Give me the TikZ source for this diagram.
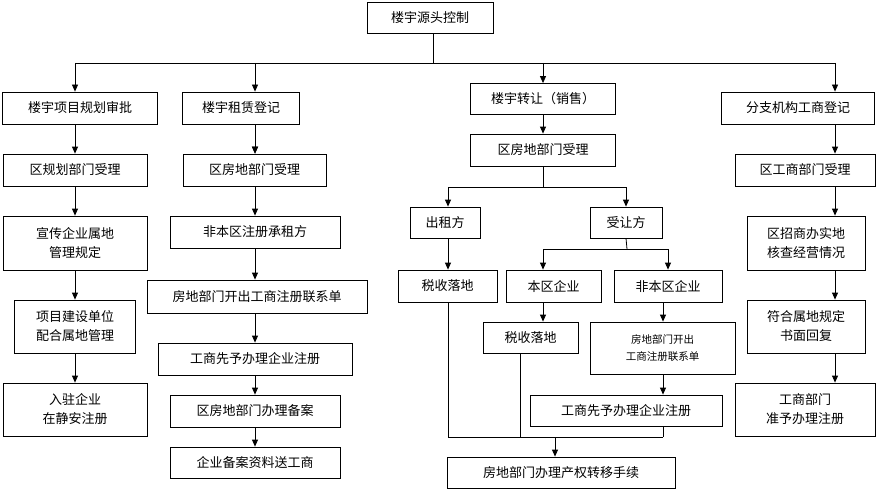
\documentclass[tikz,border=0pt]{standalone}
\usepackage{fontspec}
\newfontfamily\cjk{Noto Sans CJK SC}
\usetikzlibrary{arrows.meta}
\tikzset{
  box/.style={draw, thick, fill=white, inner sep=1pt, align=center, font=\cjk\fontsize{13}{19}\selectfont},
  arr/.style={thick, -{Triangle[length=7pt,width=6pt]}},
  ln/.style={thick}
}
\begin{document}
\begin{tikzpicture}[x=1pt,y=-1pt]
  \useasboundingbox (0,0) rectangle (882,492);
  \node[box, minimum width=126, minimum height=31] (top) at (430,18) {楼宇源头控制};

  \node[box, minimum width=155, minimum height=32] (a0) at (80,108)  {楼宇项目规划审批};
  \node[box, minimum width=117, minimum height=32] (b0) at (241,108) {楼宇租赁登记};
  \node[box, minimum width=145, minimum height=31] (c0) at (543,99)  {楼宇转让（销售）};
  \node[box, minimum width=153, minimum height=32] (d0) at (798,108) {分支机构工商登记};

  % first column
  \node[box, minimum width=144, minimum height=32] (a1) at (75,170)   {区规划部门受理};
  \node[box, minimum width=144, minimum height=54] (a2) at (75,243)   {宣传企业属地\\管理规定};
  \node[box, minimum width=121, minimum height=53] (a3) at (75,326.5) {项目建设单位\\配合属地管理};
  \node[box, minimum width=144, minimum height=53] (a4) at (75,409.5) {入驻企业\\在静安注册};

  % second column
  \node[box, minimum width=143, minimum height=32] (b1) at (254.5,170) {区房地部门受理};
  \node[box, minimum width=170, minimum height=32] (b2) at (255,232)   {非本区注册承租方};
  \node[box, minimum width=220, minimum height=33] (b3) at (257,296.5) {房地部门开出工商注册联系单};
  \node[box, minimum width=194, minimum height=32] (b4) at (255,359)   {工商先予办理企业注册};
  \node[box, minimum width=170, minimum height=32] (b5) at (255,411)   {区房地部门办理备案};
  \node[box, minimum width=170, minimum height=31] (b6) at (255,462.5) {企业备案资料送工商};

  % third column
  \node[box, minimum width=145, minimum height=32] (c1) at (543,150)   {区房地部门受理};
  \node[box, minimum width=70, minimum height=31]  (c2) at (445,222.5) {出租方};
  \node[box, minimum width=72, minimum height=31]  (c3) at (626,222.5) {受让方};
  \node[box, minimum width=99, minimum height=32]  (c4) at (447.5,286) {税收落地};
  \node[box, minimum width=95, minimum height=32]  (c5) at (553.5,286) {本区企业};
  \node[box, minimum width=108, minimum height=32] (c6) at (668,286)   {非本区企业};
  \node[box, minimum width=95, minimum height=31]  (c7) at (530.5,337.5) {税收落地};
  \node[box, minimum width=145, minimum height=52, font=\cjk\fontsize{10.5}{17}\selectfont] (c8) at (662.5,348) {房地部门开出\\工商注册联系单};
  \node[box, minimum width=192, minimum height=31] (c9) at (626,410.5) {工商先予办理企业注册};
  \node[box, minimum width=228, minimum height=31] (c10) at (561,472.5) {房地部门办理产权转移手续};

  % fourth column
  \node[box, minimum width=140, minimum height=32] (d1) at (805,170)   {区工商部门受理};
  \node[box, minimum width=118, minimum height=54] (d2) at (806,243)   {区招商办实地\\核查经营情况};
  \node[box, minimum width=118, minimum height=53] (d3) at (806,326.5) {符合属地规定\\书面回复};
  \node[box, minimum width=140, minimum height=53] (d4) at (805,409.5) {工商部门\\准予办理注册};

  % vertical guide lines
  \coordinate (x75)  at (75,0);
  \coordinate (x255) at (255,0);
  \coordinate (x448) at (448,0);
  \coordinate (x520) at (520,0);
  \coordinate (x543) at (543,0);
  \coordinate (x555) at (555,0);
  \coordinate (x663) at (663,0);
  \coordinate (x835) at (835,0);
  \coordinate (j0) at (433,63);
  \coordinate (j1) at (543,187);
  \coordinate (j2) at (627,249);
  \coordinate (j3) at (555,437);

  % top fan-out
  \draw[ln] (top.south -| j0) -- (j0);
  \draw[ln] (j0 -| x75) -- (j0 -| x835);
  \foreach \t/\x in {a0/x75,b0/x255,c0/x543,d0/x835}
    \draw[arr] (j0 -| \x) -- (\t.north -| \x);

  % chains
  \foreach \s/\t in {a0/a1,b0/b1,b1/b2,b2/b3,b3/b4,b4/b5,b5/b6}
    \draw[arr] (\s.south -| x255) -- (\t.north -| x255);
  \foreach \s/\t in {a1/a2,a2/a3,a3/a4}
    \draw[arr] (\s) -- (\t);
  \draw[arr] (a0.south -| x75) -- (a1.north -| x75);
  \foreach \s/\t in {d0/d1,d1/d2,d2/d3,d3/d4}
    \draw[arr] (\s.south -| x835) -- (\t.north -| x835);
  \draw[arr] (c0) -- (c1);

  % transfer branch
  \draw[ln] (c1.south) -- (j1);
  \draw[ln] (j1 -| x448) -- (j1 -| c3);
  \draw[arr] (j1 -| x448) -- (c2.north -| x448);
  \draw[arr] (j1 -| c3) -- (c3.north);
  \draw[arr] (c2.south -| x448) -- (c4.north -| x448);
  \draw[ln] (c3.south) -- (j2);
  \draw[ln] (j2 -| x543) -- (j2 -| c6);
  \draw[arr] (j2 -| x543) -- (c5.north -| x543);
  \draw[arr] (j2 -| c6) -- (c6.north);
  \draw[arr] (c5.south -| x543) -- (c7.north -| x543);
  \draw[arr] (c6.south -| x663) -- (c8.north -| x663);
  \draw[arr] (c8.south -| x663) -- (c9.north -| x663);

  % merge
  \draw[ln] (c4.south -| x448) -- (j3 -| x448) -- (j3 -| x663);
  \draw[ln] (c7.south -| x520) -- (j3 -| x520);
  \draw[ln] (c9.south -| x663) -- (j3 -| x663);
  \draw[arr] (j3) -- (c10.north -| x555);
\end{tikzpicture}
\end{document}
